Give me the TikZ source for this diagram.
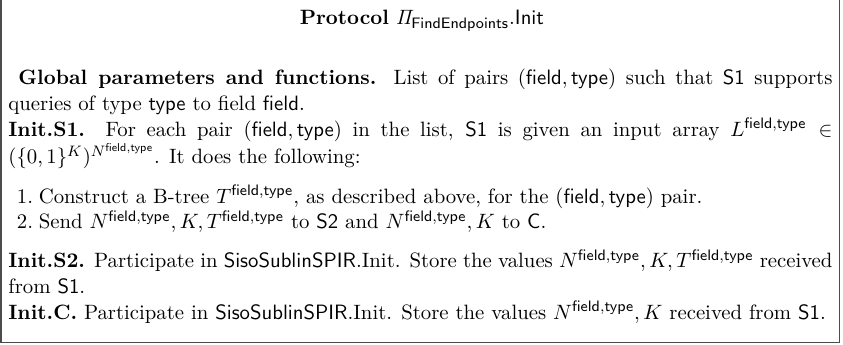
\documentclass[tikz,border=0pt]{standalone}
\usepackage{amsmath}
\usepackage{graphicx}
\tikzset{
  frameline/.style={draw=black!70, line width=0.9pt},
  titletext/.style={inner sep=0pt, anchor=base},
  bodytext/.style={inner sep=0pt, anchor=base west}
}
\newcommand{\fld}{\mathsf{field}}
\newcommand{\typ}{\mathsf{type}}
\newcommand{\ft}{\mathsf{field},\mathsf{type}}
% eleven-point text as in the surrounding document, set a touch larger
\newcommand{\elevenpt}{\fontsize{10.95}{13.6}\selectfont}
\newcommand{\boxscale}[1]{\scalebox{1.011}{#1}}
\begin{document}
\begin{tikzpicture}[x=1pt,y=1pt]
\useasboundingbox (0,0) rectangle (449.6,184);
% open-topped frame around the protocol description
\coordinate (tl) at (0.6,185);
\coordinate (bl) at (0.6,1.4);
\coordinate (br) at (447.8,1.4);
\coordinate (tr) at (447.8,185);
\draw[frameline] (tl) -- (bl) -- (br) -- (tr);
% heading
\node[titletext] (title) at (225.0,170.7)
  {\boxscale{\elevenpt\textbf{Protocol} $\mathit{\Pi}_{\mathsf{FindEndpoints}}$.\textsf{Init}}};
% protocol body
\node[bodytext] (body) at (4.3,138.9) {\boxscale{%
\begin{minipage}[t]{434.7pt}
\elevenpt
\setlength{\parindent}{0pt}%
\hspace*{5.3pt}\textbf{Global parameters and functions.} List of pairs $(\ft)$ such that $\mathsf{S1}$ supports queries of type $\typ$ to field $\fld$.\\
\textbf{Init.S1.} For each pair $(\ft)$ in the list, $\mathsf{S1}$ is given an input array $L^{\ft} \in (\{0,1\}^K)^{N^{\ft}}$. It does the following:
\begin{list}{\arabic{enumi}.}{\usecounter{enumi}%
  \setlength{\leftmargin}{16pt}\setlength{\labelwidth}{13pt}%
  \setlength{\labelsep}{3pt}\setlength{\itemsep}{0pt}%
  \setlength{\parsep}{0pt}\setlength{\topsep}{7pt}}
\item Construct a B-tree $T^{\ft}$, as described above, for the $(\ft)$ pair.
\item Send $N^{\ft}, K, T^{\ft}$ to $\mathsf{S2}$ and $N^{\ft}, K$ to $\mathsf{C}$.
\end{list}
\textbf{Init.S2.} Participate in $\mathsf{SisoSublinSPIR}$.Init. Store the values $N^{\ft}, K, T^{\ft}$ received from $\mathsf{S1}$.\\
\textbf{Init.C.} Participate in $\mathsf{SisoSublinSPIR}$.Init. Store the values $N^{\ft}, K$ received from $\mathsf{S1}$.
\end{minipage}}};
\end{tikzpicture}
\end{document}
